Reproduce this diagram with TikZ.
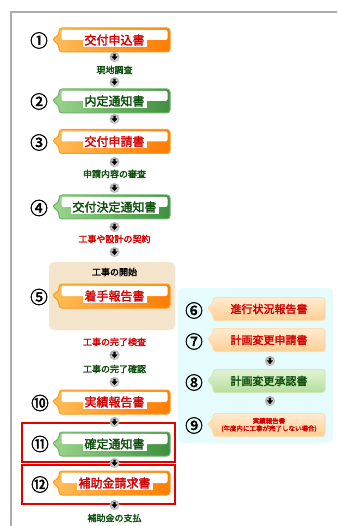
\documentclass[tikz,border=0pt]{standalone}
\usepackage{fontspec}
\newfontfamily\jp[AutoFakeBold=2.2]{Noto Sans CJK JP}
\pgfdeclarelayer{back}
\pgfdeclarelayer{bg}
\pgfsetlayers{back,bg,main}
\definecolor{orL}{HTML}{FFBE5A}
\definecolor{orR}{HTML}{FF7C00}
\definecolor{orB}{HTML}{FF9A1A}
\definecolor{grL}{HTML}{9CD68C}
\definecolor{grR}{HTML}{3F8F3F}
\definecolor{grB}{HTML}{6DB46D}
\definecolor{pchT}{HTML}{FFEBD0}
\definecolor{pchB}{HTML}{FFCF94}
\definecolor{pchD}{HTML}{FFDDB0}
\definecolor{lgT}{HTML}{E2F3D4}
\definecolor{lgB}{HTML}{B6DE9C}
\definecolor{lgD}{HTML}{CFE8BE}
\definecolor{txtred}{HTML}{D20000}
\definecolor{txtgrn}{HTML}{0B4E0B}
\definecolor{tan}{HTML}{F3E4CB}
\definecolor{lcyan}{HTML}{E6FCFC}
\definecolor{frameR}{HTML}{E00000}
\newcommand\callout[6]{%
 \begin{pgfonlayer}{bg}
 \shade[#4, draw=#5, line width=1pt, rounded corners=3pt]
   ([xshift=-#2pt,yshift=#3pt]#1.center) -- ([xshift=#2pt,yshift=#3pt]#1.center)
   -- ([xshift=#2pt,yshift=-#3pt]#1.center) -- ([xshift=-#2pt,yshift=-#3pt]#1.center)
   -- ([xshift=-#2pt,yshift=-5pt]#1.center) -- ([xshift=-#2pt-#6pt,yshift=1pt]#1.center)
   -- ([xshift=-#2pt,yshift=5pt]#1.center) -- cycle;
 \end{pgfonlayer}}
\newcommand\whiteband[3]{%
 \begin{pgfonlayer}{bg}
 \fill[white, rounded corners=2pt] ([xshift=-#2pt+2.5pt,yshift=#3pt-1.8pt]#1.center) rectangle ([xshift=#2pt-2.5pt,yshift=0pt]#1.center);
 \end{pgfonlayer}}
\tikzset{
 lbox/.style={font=\jp\bfseries\fontsize{12}{12}\selectfont, fill=white, inner xsep=2pt, inner ysep=1.2pt},
 rbox/.style={font=\jp\bfseries\fontsize{11}{11}\selectfont, inner sep=1pt},
 num/.style={font=\jp\bfseries\fontsize{17.5}{17.5}\selectfont, inner sep=0pt},
 small/.style={font=\jp\bfseries\fontsize{9}{9}\selectfont, inner sep=0pt},
 arr/.style={circle, minimum size=9.5pt, inner sep=0pt, draw=gray!55, line width=0.4pt,
   inner color=white, outer color=gray!70,
   path picture={\fill[black, shift={(path picture bounding box.center)}]
     (-1.1pt,3.2pt) -- (1.1pt,3.2pt) -- (1.1pt,0.6pt) -- (3.2pt,0.6pt) -- (0pt,-3.2pt) -- (-3.2pt,0.6pt) -- (-1.1pt,0.6pt) -- cycle;}},
 orsh/.style={left color=orL, right color=orR},
 grsh/.style={left color=grL, right color=grR},
 pcsh/.style={top color=pchT, bottom color=pchB},
 lgsh/.style={top color=lgT, bottom color=lgB},
}
\begin{document}
\begin{tikzpicture}[x=1pt,y=-1pt]
\useasboundingbox (0,0) rectangle (337,526);
\begin{pgfonlayer}{back}
\fill[white] (0,0) rectangle (337,526);
\fill[tan, rounded corners=5pt] (49,262) rectangle (175,330);
\fill[lcyan, rounded corners=5pt] (178,288) rectangle (333,443);
\draw[frameR, line width=1.4pt] (22,423) rectangle (175,462);
\draw[frameR, line width=1.4pt] (22,465) rectangle (175,504);
\end{pgfonlayer}
\draw[gray!65, line width=1.3pt] (11,526) -- (11,12) -- (337,12);
% left boxes
\node[lbox, text=txtred] (b1) at (114.5,40) {交付申込書};
\node[lbox, text=txtgrn] (b2) at (114.5,101) {内定通知書};
\node[lbox, text=txtred] (b3) at (114.5,141.5) {交付申請書};
\node[lbox, text=txtgrn] (b4) at (114.5,207) {交付決定通知書};
\node[lbox, text=txtred] (b5) at (114.5,296) {着手報告書};
\node[lbox, text=txtred] (b10) at (114.5,402) {実績報告書};
\node[lbox, text=txtgrn] (b11) at (114.5,444) {確定通知書};
\node[lbox, text=txtred] (b12) at (114.5,483) {補助金請求書};
\callout{b1}{55.5}{12}{orsh}{orB}{7}\whiteband{b1}{55.5}{12}
\callout{b2}{55.5}{12}{grsh}{grB}{7}\whiteband{b2}{55.5}{12}
\callout{b3}{55.5}{12}{orsh}{orB}{7}\whiteband{b3}{55.5}{12}
\callout{b4}{55.5}{12}{grsh}{grB}{7}\whiteband{b4}{55.5}{12}
\callout{b5}{55.5}{12}{orsh}{orB}{7}\whiteband{b5}{55.5}{12}
\callout{b10}{55.5}{12}{orsh}{orB}{7}\whiteband{b10}{55.5}{12}
\callout{b11}{55.5}{12}{grsh}{grB}{7}\whiteband{b11}{55.5}{12}
\callout{b12}{55.5}{12}{orsh}{orB}{7}\whiteband{b12}{55.5}{12}
% numbers left
\node[num] (n1) at (39,40.5) {①};
\node[num] (n2) at (39,101.5) {②};
\node[num] (n3) at (39,142.5) {③};
\node[num] (n4) at (39,208) {④};
\node[num] (n5) at (39,297) {⑤};
\node[num] (n10) at (40,403) {⑩};
\node[num] (n11) at (40,444) {⑪};
\node[num] (n12) at (40,484.5) {⑫};
% small labels
\node[small, text=txtgrn] (l1) at (114.5,70) {現地調査};
\node[small, text=txtgrn] (l2) at (114.5,174) {申請内容の審査};
\node[small, text=txtred] (l3) at (114.5,239) {工事や設計の契約};
\node[small, text=black] (l4) at (114.5,272) {工事の開始};
\node[small, text=txtred] (l5) at (114.5,342) {工事の完了検査};
\node[small, text=txtgrn] (l6) at (114.5,369) {工事の完了確認};
\node[small, text=txtgrn] (l7) at (114.5,518) {補助金の支払};
% arrows left
\node[arr] (a1) at (114.5,57) {};
\node[arr] (a2) at (114.5,82) {};
\node[arr] (a3) at (114.5,119) {};
\node[arr] (a4) at (114.5,162) {};
\node[arr] (a5) at (114.5,188) {};
\node[arr] (a6) at (114.5,227) {};
\node[arr] (a7) at (114.5,252) {};
\node[arr] (a8) at (114.5,355) {};
\node[arr] (a9) at (114.5,382) {};
\node[arr] (a10) at (114.5,422) {};
\node[arr] (a11) at (114.5,463) {};
\node[arr] (a12) at (114.5,505) {};
% right boxes
\node[rbox, text=txtred] (b6) at (269,309) {進行状況報告書};
\node[rbox, text=txtred] (b7) at (269,340) {計画変更申請書};
\node[rbox, text=txtgrn] (b8) at (269,381) {計画変更承認書};
\node[rbox, text=txtred, align=center, font=\jp\bfseries\fontsize{6.5}{7.5}\selectfont] (b9) at (269,425) {実績報告書\\(年度内に工事が完了しない場合)};
\callout{b6}{56}{11.5}{pcsh}{pchD}{6}
\callout{b7}{56}{11.5}{pcsh}{pchD}{6}
\callout{b8}{56}{11.5}{lgsh}{lgD}{6}
\callout{b9}{56}{11.5}{pcsh}{pchD}{6}
\node[num] (n6) at (194,310.5) {⑥};
\node[num] (n7) at (194,341.5) {⑦};
\node[num] (n8) at (194,382.5) {⑧};
\node[num] (n9) at (194,425.5) {⑨};
\node[arr] (a13) at (270,361) {};
\node[arr] (a14) at (270,401) {};
\end{tikzpicture}
\end{document}
